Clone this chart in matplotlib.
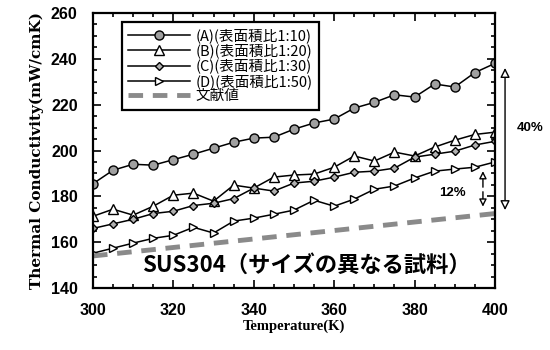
import matplotlib
matplotlib.use("Agg")
import matplotlib.pyplot as plt
from matplotlib.ticker import MultipleLocator

# temperature (K)
temps = [300, 305, 310, 315, 320, 325, 330, 335, 340, 345, 350,
         355, 360, 365, 370, 375, 380, 385, 390, 395, 400]

# thermal conductivity (mW/cmK)
cond_a = [185.5, 191.4, 194.0, 193.6, 196.0, 198.4, 201.0, 203.6, 205.4, 205.8, 209.3,
          212.0, 213.7, 218.5, 221.0, 224.3, 223.3, 229.0, 227.7, 234.0, 238.0]
cond_b = [171.3, 174.4, 171.8, 175.7, 180.5, 181.4, 177.9, 184.9, 183.6, 188.4, 189.3,
          189.7, 192.7, 197.6, 195.4, 199.3, 197.6, 201.5, 204.5, 207.0, 208.0]
cond_c = [166.0, 168.0, 170.0, 172.5, 173.5, 176.0, 177.0, 179.0, 183.6, 182.3, 185.8,
          186.6, 188.4, 190.5, 191.0, 192.3, 197.1, 198.4, 199.7, 202.4, 204.0]
cond_d = [155.2, 157.4, 159.6, 161.7, 163.0, 166.5, 164.0, 169.2, 170.5, 172.2, 174.0,
          178.3, 175.7, 178.8, 183.1, 184.5, 188.0, 191.0, 191.9, 192.7, 195.0]
lit_t = [300, 400]
lit_val = [154.0, 172.5]

labels = ["(A)(表面積比1:10)", "(B)(表面積比1:20)", "(C)(表面積比1:30)",
          "(D)(表面積比1:50)", "文献値"]

jp = ["Noto Sans CJK JP", "DejaVu Sans"]

fig = plt.figure(figsize=(5.5, 3.5), dpi=100)
ax = fig.add_axes([0.169, 0.177, 0.731, 0.786])

ax.plot(temps, cond_a, color="black", lw=1.1, marker="o", ms=6.5,
        mfc="#a0a0a0", mec="black", mew=1.0, label=labels[0])
ax.plot(temps, cond_b, color="black", lw=1.1, marker="^", ms=7,
        mfc="white", mec="black", mew=1.0, label=labels[1])
ax.plot(temps, cond_c, color="black", lw=1.1, marker="D", ms=4.5,
        mfc="#b0b0b0", mec="black", mew=1.0, label=labels[2])
ax.plot(temps, cond_d, color="black", lw=1.1, marker=">", ms=5.5,
        mfc="white", mec="black", mew=1.0, label=labels[3])
ax.plot(lit_t, lit_val, color="#8a8a8a", lw=3.5, dashes=(3, 2), label=labels[4])

ax.set_xlim(300, 400)
ax.set_ylim(140, 260)
ax.xaxis.set_major_locator(MultipleLocator(20))
ax.xaxis.set_minor_locator(MultipleLocator(5))
ax.yaxis.set_major_locator(MultipleLocator(20))
ax.yaxis.set_minor_locator(MultipleLocator(5))
ax.tick_params(which="both", direction="in", top=True, right=True, width=1.2)
ax.tick_params(which="major", length=6)
ax.tick_params(which="minor", length=3)
ax.tick_params(axis="x", which="major", pad=11)
ax.tick_params(axis="y", which="major", pad=11)
for lab in ax.get_xticklabels() + ax.get_yticklabels():
    lab.set_fontfamily("Liberation Sans")
    lab.set_fontweight("bold")
    lab.set_fontsize(11.5)
for sp in ax.spines.values():
    sp.set_linewidth(1.6)

ax.set_xlabel("Temperature(K)", fontfamily="Liberation Serif", fontweight="bold",
              fontsize=10.5, labelpad=1)
ax.set_ylabel("Thermal Conductivity(mW/cmK)", fontfamily="DejaVu Serif",
              fontweight="bold", fontsize=11, labelpad=5)

leg = ax.legend(loc="upper left", bbox_to_anchor=(0.072, 0.967), borderaxespad=0,
                prop={"family": jp, "size": 10.5}, handlelength=4.2, fancybox=False,
                framealpha=1, edgecolor="black", labelspacing=0.02,
                handletextpad=0.4, borderpad=0.45)
leg.get_frame().set_linewidth(1.6)

ax.text(353, 150, "SUS304（サイズの異なる試料）", ha="center", va="center",
        fontsize=16, fontweight="bold", family=jp)

# percentage arrows
ax.annotate("", xy=(402.5, 236), xytext=(402.5, 174), xycoords="data",
            annotation_clip=False,
            arrowprops=dict(arrowstyle="<|-|>", color="black", lw=1.0,
                            mutation_scale=14, fc="white", shrinkA=0, shrinkB=0))
ax.text(405.5, 210, "40%", fontsize=9.5, fontweight="bold", family="Liberation Sans",
        ha="left", va="center", clip_on=False)
ax.annotate("", xy=(397, 191), xytext=(397, 184), annotation_clip=False,
            arrowprops=dict(arrowstyle="-|>", color="black", lw=1.0,
                            mutation_scale=11, fc="white", shrinkA=0, shrinkB=0))
ax.annotate("", xy=(397, 175.5), xytext=(397, 182), annotation_clip=False,
            arrowprops=dict(arrowstyle="-|>", color="black", lw=1.0,
                            mutation_scale=11, fc="white", shrinkA=0, shrinkB=0))
ax.text(389.5, 181.5, "12%", fontsize=9.5, fontweight="bold", family="Liberation Sans",
        ha="center", va="center")

fig.savefig("out.png", dpi=100)
